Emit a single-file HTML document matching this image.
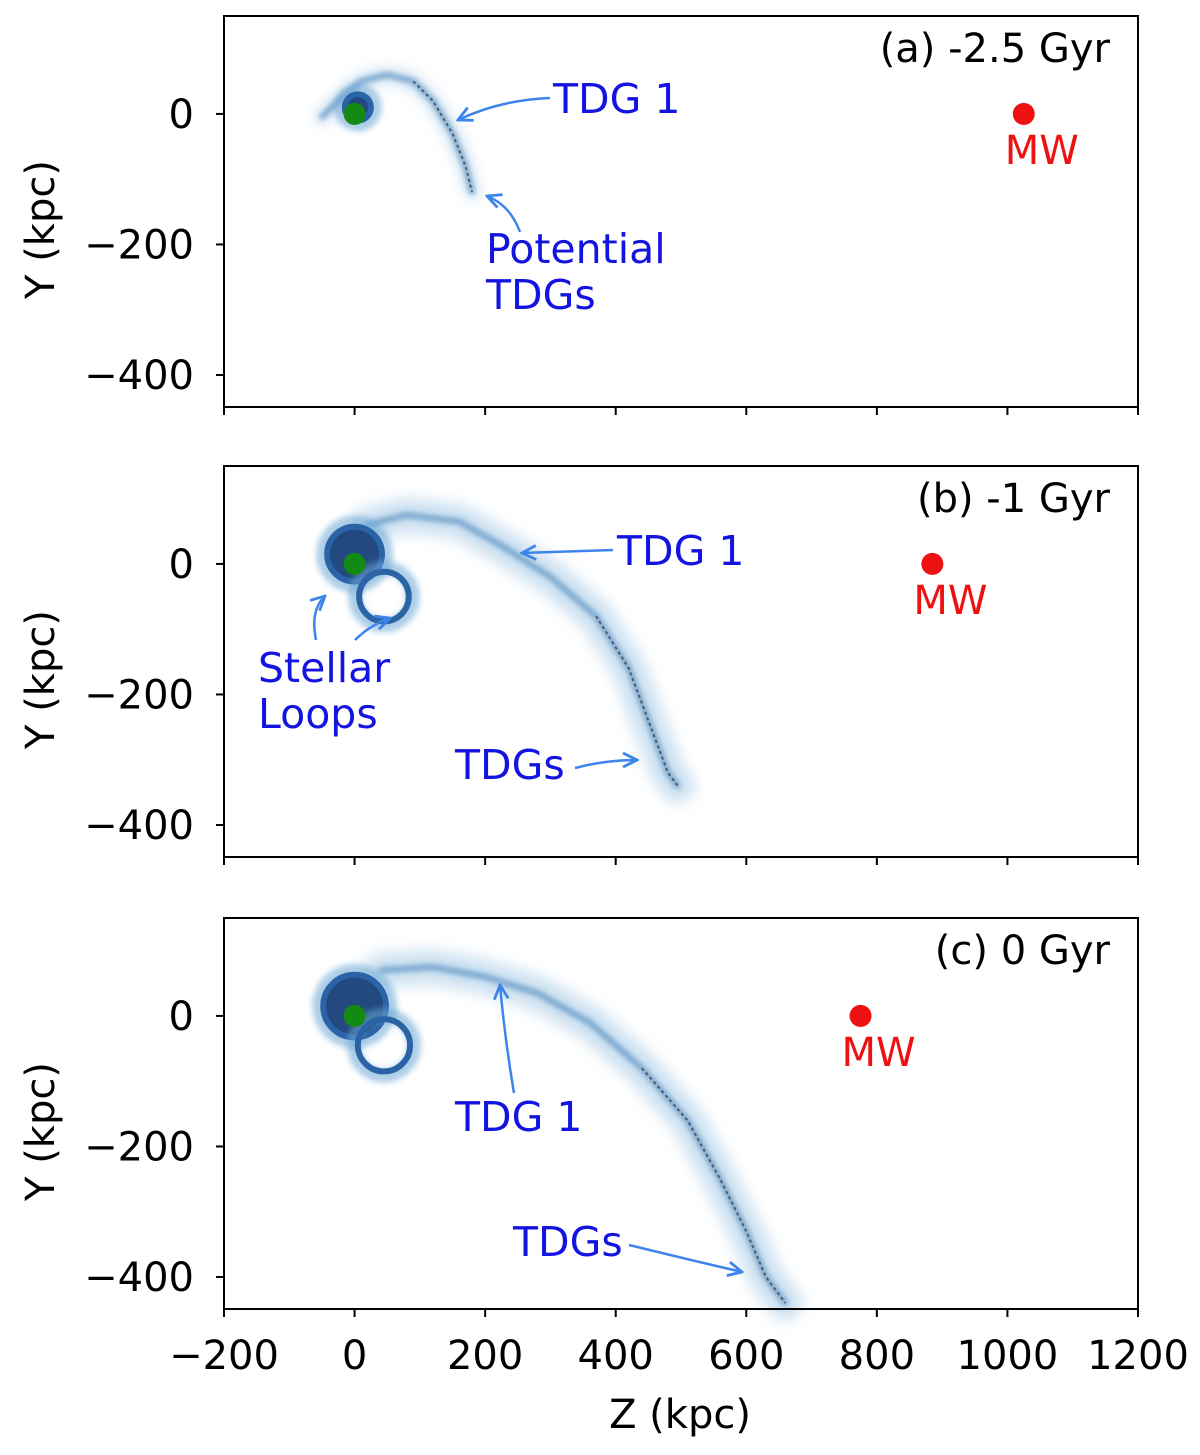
<!DOCTYPE html>
<html><head><meta charset="utf-8"><style>
html,body{margin:0;padding:0;background:#fff;}
svg{display:block;font-family:"DejaVu Sans","Liberation Sans",sans-serif;}
</style></head><body>
<svg id="fig" width="1200" height="1455" viewBox="0 0 1200 1455" xmlns="http://www.w3.org/2000/svg">
<defs>
<filter id="blur2" x="-50%" y="-50%" width="200%" height="200%"><feGaussianBlur stdDeviation="3"/></filter>
<filter id="blur6" x="-50%" y="-50%" width="200%" height="200%"><feGaussianBlur stdDeviation="7"/></filter>
<marker id="arr" viewBox="0 0 10 10" refX="9" refY="5" markerWidth="7" markerHeight="7" orient="auto-start-reverse"><path d="M1,1 L9,5 L1,9" fill="none" stroke="#3d85ea" stroke-width="1.6"/></marker>
</defs>
</svg>
<script>
// ---- data ----
const panelLabels = ["(a) -2.5 Gyr", "(b) -1 Gyr", "(c) 0 Gyr"];
const xTicks = [-200, 0, 200, 400, 600, 800, 1000, 1200];
const yTicks = [0, -200, -400];
const mwZ = [1025, 885, 775];
const streamA = [[-50,-5],[-30,15],[10,50],[50,60],[90,50],[120,20],[150,-30],[170,-80],[180,-120]];
const streamB = [[20,60],[80,75],[160,65],[230,25],[300,-20],[370,-80],[420,-160],[450,-240],[480,-320],[495,-340]];
const streamC = [[40,70],[120,75],[200,60],[280,35],[360,-10],[440,-80],[510,-160],[560,-250],[600,-330],[630,-400],[660,-440]];
const streams = [streamA, streamB, streamC];
const loopsA = [[5,10,20]];
const loopsB = [[0,15,42],[45,-50,38]];
const loopsC = [[0,15,48],[45,-45,40]];
const loops = [loopsA, loopsB, loopsC];

// ---- layout ----
const X0 = 224, X1 = 1138;
const panelTops = [16, 466, 918];
const PH = 391;
const yMax = 150, yMin = -449;
const NS = "http://www.w3.org/2000/svg";
const svg = document.getElementById('fig');
function xs(z){ return X0 + (z + 200) * (X1 - X0) / 1400; }
function ysF(top){ return y => top + (yMax - y) * PH / (yMax - yMin); }
function el(tag, attrs, parent){ const e = document.createElementNS(NS, tag); for (const k in attrs) e.setAttribute(k, attrs[k]); (parent || svg).appendChild(e); return e; }
function txt(s, attrs, parent){ const t = el('text', attrs, parent); t.textContent = s; return t; }

panelLabels.forEach((lab, i) => {
  const top = panelTops[i], ys = ysF(top);
  const g = el('g', {});
  
  
  const pts = streams[i].map(p => xs(p[0]) + ',' + ys(p[1])).join(' ');
  const c1 = el('polyline', {points: pts, fill: 'none', stroke: '#9cc4e4', 'stroke-width': i ? 34 : 14, 'stroke-opacity': 0.5, filter: 'url(#blur6)', 'stroke-linecap': 'round', 'stroke-linejoin': 'round'}, g);
  
  
  const c2 = el('polyline', {points: pts, fill: 'none', stroke: '#3f7fb8', 'stroke-width': 5, 'stroke-opacity': 0.75, filter: 'url(#blur2)', 'stroke-linecap': 'round', 'stroke-linejoin': 'round'}, g);
  
  
  const c3 = el('polyline', {points: streams[i].slice(Math.floor(streams[i].length/2)).map(p => xs(p[0]) + ',' + ys(p[1])).join(' '), fill: 'none', stroke: '#333', 'stroke-width': 2, 'stroke-dasharray': '3 3', 'stroke-opacity': 0.7}, g);
  
  
  loops[i].forEach((l, j) => {
    const r = l[2] * (X1 - X0) / 1400;
    const h = el('circle', {cx: xs(l[0]), cy: ys(l[1]), r: r + 4, fill: 'none', stroke: '#6aa5d5', 'stroke-width': 14, 'stroke-opacity': 0.55, filter: 'url(#blur2)'}, g);
    
    
    const c = el('circle', {cx: xs(l[0]), cy: ys(l[1]), r: r, fill: j === 0 ? '#173f78' : 'none', stroke: '#2a64a6', 'stroke-width': 6, 'fill-opacity': 0.95}, g);
    
    
  });
  const gc = el('circle', {cx: xs(0), cy: ys(0), r: 11, fill: '#138a13'}, g);
  
  
  const mw = el('circle', {cx: xs(mwZ[i]), cy: ys(0), r: 11, fill: '#ee1111'}, g);
  
  
  const mwt = txt('MW', {x: xs(mwZ[i]) + 18, y: ys(0) + 50, 'text-anchor': 'middle', 'font-size': 40, fill: '#ee1111'}, g);
  
  
  const fr = el('rect', {x: X0, y: top, width: X1 - X0, height: PH, fill: 'none', stroke: '#000', 'stroke-width': 2}, g);
  
  
  yTicks.forEach(v => {
    const y = ys(v);
    el('line', {x1: X0 - 8, x2: X0, y1: y, y2: y, stroke: '#000', 'stroke-width': 2}, g);
    const t = txt(v < 0 ? '\u2212' + (-v) : String(v), {x: X0 - 30, y: y + 14, 'text-anchor': 'end', 'font-size': 40}, g);
    
    
  });
  xTicks.forEach(v => {
    const x = xs(v);
    el('line', {x1: x, x2: x, y1: top + PH, y2: top + PH + 8, stroke: '#000', 'stroke-width': 2}, g);
    if (i === 2) {
      const t = txt(v < 0 ? '\u2212' + (-v) : String(v), {x: x, y: top + PH + 60, 'text-anchor': 'middle', 'font-size': 40}, g);
      
      
    }
  });
  const yt = txt('Y (kpc)', {x: 0, y: 0, 'text-anchor': 'middle', 'font-size': 40, transform: 'translate(54,' + (top + PH/2 + 18) + ') rotate(-90)'}, g);
  
  
  const pl = txt(lab, {x: 1110, y: top + 46, 'text-anchor': 'end', 'font-size': 40}, g);
  
  
});
const xt = txt('Z (kpc)', {x: 680, y: 1428, 'text-anchor': 'middle', 'font-size': 40});



function note(lines, x, y0, name){
  lines.forEach((s, k) => {
    const t = txt(s, {x: x, y: y0 + k * 46, 'font-size': 41, fill: '#1414e0'});
    
    
  });
}
function arrow(d, name){
  const p = el('path', {d: d, fill: 'none', stroke: '#3d85ea', 'stroke-width': 2.5, 'marker-end': 'url(#arr)'});
  
  
}
note(['TDG 1'], 553, 113, 'tdg1-annotation');
arrow('M550,98 Q500,100 458,120', 'tdg1-arrow');
note(['Potential', 'TDGs'], 486, 263, 'potential-tdgs-annotation');
arrow('M520,232 Q510,205 487,196', 'potential-tdgs-arrow');
note(['TDG 1'], 617, 565, 'tdg1-annotation');
arrow('M613,550 L522,553', 'tdg1-arrow');
note(['Stellar', 'Loops'], 258, 682, 'stellar-loops-annotation');
arrow('M316,640 Q310,610 325,596', 'loop-arrow-left');
arrow('M355,640 Q370,625 390,618', 'loop-arrow-right');
note(['TDGs'], 455, 779, 'tdgs-annotation');
arrow('M575,768 Q605,760 637,760', 'tdgs-arrow');
note(['TDG 1'], 455, 1131, 'tdg1-annotation');
arrow('M514,1093 Q505,1040 500,985', 'tdg1-arrow');
note(['TDGs'], 513, 1256, 'tdgs-annotation');
arrow('M629,1245 Q690,1260 742,1272', 'tdgs-arrow');
</script>
</body></html>
